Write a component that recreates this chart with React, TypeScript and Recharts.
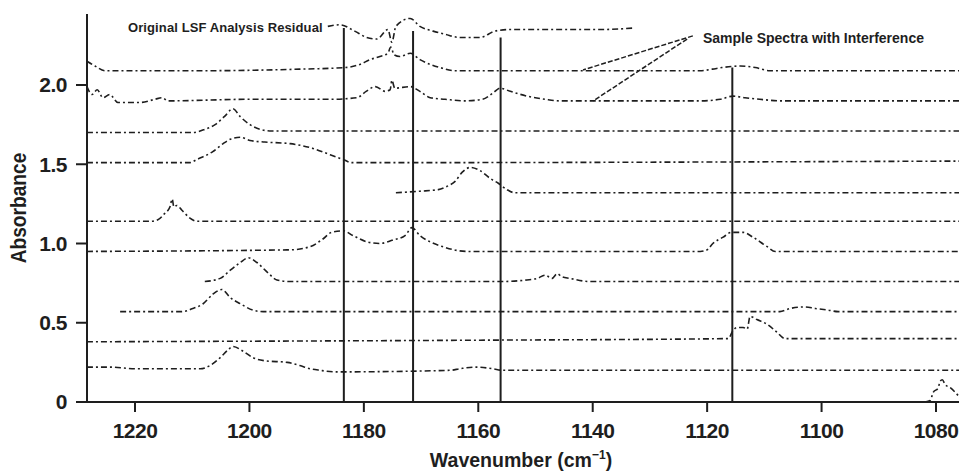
import React from 'react';
import { LineChart, Line, XAxis, YAxis, ReferenceLine } from 'recharts';

type Pt = [number, number];

// each trace: [wavenumber (cm-1), absorbance]
const lsfResidual: Pt[] = [
  [1186.3, 2.37], [1184.2, 2.38], [1181.6, 2.34], [1179.5, 2.30], [1177.7, 2.29], [1175.8, 2.35],
  [1175.1, 2.27], [1174.4, 2.37], [1171.9, 2.42], [1170.2, 2.37], [1167.9, 2.34], [1165.8, 2.32],
  [1163.2, 2.30], [1159.7, 2.30], [1157.1, 2.34], [1154.5, 2.35], [1145.7, 2.35], [1138.7, 2.35],
  [1132.6, 2.36],
];
const sampleA: Pt[] = [
  [1228.4, 2.15], [1227.0, 2.12], [1225.2, 2.09], [1208.6, 2.09], [1191.2, 2.10], [1183.3, 2.11],
  [1180.7, 2.13], [1178.9, 2.16], [1177.2, 2.18], [1175.8, 2.20], [1175.3, 2.24], [1174.7, 2.19],
  [1173.7, 2.18], [1171.9, 2.20], [1170.2, 2.16], [1168.4, 2.13], [1166.7, 2.11], [1164.1, 2.09],
  [1138.7, 2.09], [1121.2, 2.09], [1119.1, 2.10], [1117.4, 2.11], [1114.2, 2.12], [1111.6, 2.11],
  [1109.0, 2.09], [1075.8, 2.09],
];
const sampleB: Pt[] = [
  [1228.4, 1.99], [1227.5, 1.94], [1226.6, 1.97], [1225.6, 1.92], [1224.4, 1.94], [1223.0, 1.89],
  [1219.1, 1.89], [1216.5, 1.91], [1215.3, 1.92], [1214.2, 1.90], [1199.9, 1.91], [1185.9, 1.91],
  [1181.2, 1.92], [1179.6, 1.96], [1178.0, 1.99], [1176.3, 1.96], [1175.4, 1.97], [1175.1, 2.03],
  [1174.6, 1.98], [1171.9, 1.99], [1170.2, 1.96], [1168.4, 1.92], [1165.8, 1.91], [1162.3, 1.90],
  [1159.3, 1.91], [1157.4, 1.95], [1156.2, 1.98], [1154.4, 1.96], [1151.5, 1.93], [1148.3, 1.91],
  [1145.7, 1.90], [1121.2, 1.90], [1117.7, 1.91], [1115.5, 1.93], [1113.4, 1.92], [1110.8, 1.91],
  [1107.3, 1.90], [1075.8, 1.90],
];
const refC: Pt[] = [
  [1228.4, 1.70], [1209.9, 1.70], [1207.8, 1.72], [1206.0, 1.75], [1204.4, 1.80], [1202.9, 1.85],
  [1201.6, 1.80], [1199.9, 1.75], [1198.1, 1.72], [1196.1, 1.71], [1075.8, 1.71],
];
const refD: Pt[] = [
  [1228.4, 1.51], [1210.4, 1.51], [1209.2, 1.53], [1206.4, 1.58], [1204.6, 1.63], [1203.2, 1.66],
  [1201.6, 1.67], [1199.9, 1.65], [1197.3, 1.64], [1192.9, 1.63], [1188.9, 1.60], [1185.9, 1.56],
  [1183.6, 1.53], [1182.1, 1.51], [1075.8, 1.52],
];
const refE: Pt[] = [
  [1174.4, 1.32], [1170.2, 1.33], [1167.0, 1.34], [1165.5, 1.36], [1164.1, 1.39], [1162.8, 1.45],
  [1161.4, 1.48], [1159.7, 1.46], [1157.9, 1.41], [1156.5, 1.38], [1155.0, 1.34], [1153.6, 1.32],
  [1075.8, 1.32],
];
const refF: Pt[] = [
  [1228.4, 1.14], [1217.4, 1.14], [1216.0, 1.15], [1214.8, 1.19], [1213.9, 1.23], [1213.5, 1.28],
  [1213.2, 1.23], [1212.7, 1.24], [1211.8, 1.21], [1210.4, 1.16], [1209.2, 1.14], [1075.8, 1.14],
];
const refG: Pt[] = [
  [1228.4, 0.95], [1192.9, 0.96], [1189.4, 0.98], [1187.1, 1.03], [1185.7, 1.07], [1183.6, 1.08],
  [1181.9, 1.05], [1179.4, 1.01], [1177.2, 1.00], [1175.1, 1.02], [1172.8, 1.05], [1171.6, 1.10],
  [1170.2, 1.05], [1168.4, 1.01], [1166.2, 0.98], [1162.0, 0.95], [1121.2, 0.95], [1120.0, 0.96],
  [1119.0, 1.00], [1117.2, 1.04], [1115.8, 1.07], [1113.7, 1.07], [1112.0, 1.04], [1109.5, 0.98],
  [1108.1, 0.95], [1075.8, 0.95],
];
const refH: Pt[] = [
  [1207.8, 0.76], [1205.1, 0.78], [1203.4, 0.83], [1201.6, 0.88], [1200.2, 0.91], [1198.7, 0.88],
  [1196.9, 0.82], [1195.2, 0.77], [1192.9, 0.76], [1156.2, 0.76], [1151.5, 0.77], [1149.7, 0.78],
  [1148.3, 0.80], [1147.1, 0.78], [1146.2, 0.81], [1145.4, 0.79], [1144.0, 0.78], [1140.5, 0.76],
  [1075.8, 0.76],
];
const refI: Pt[] = [
  [1222.6, 0.57], [1211.8, 0.57], [1209.9, 0.59], [1208.1, 0.62], [1206.4, 0.68], [1204.8, 0.71],
  [1203.4, 0.66], [1201.6, 0.62], [1199.4, 0.58], [1197.6, 0.57], [1107.3, 0.57], [1105.5, 0.59],
  [1102.9, 0.60], [1101.1, 0.59], [1098.9, 0.58], [1097.1, 0.57], [1075.8, 0.57],
];
const refJ: Pt[] = [
  [1228.4, 0.38], [1159.7, 0.39], [1116.3, 0.40], [1115.5, 0.45], [1114.8, 0.47], [1113.7, 0.47],
  [1113.0, 0.46], [1112.5, 0.54], [1111.3, 0.52], [1109.5, 0.49], [1107.8, 0.44], [1106.4, 0.40],
  [1104.6, 0.40], [1075.8, 0.40],
];
const refK: Pt[] = [
  [1228.4, 0.22], [1224.4, 0.22], [1220.0, 0.21], [1208.6, 0.21], [1206.9, 0.23], [1205.1, 0.28],
  [1203.7, 0.33], [1202.9, 0.35], [1201.1, 0.32], [1199.4, 0.28], [1197.3, 0.26], [1193.4, 0.25],
  [1191.2, 0.23], [1189.4, 0.21], [1187.7, 0.20], [1185.0, 0.19], [1164.9, 0.20], [1163.2, 0.21],
  [1160.6, 0.22], [1157.4, 0.21], [1155.8, 0.20], [1075.8, 0.20],
];
const refL: Pt[] = [
  [1081.9, 0.0], [1081.0, 0.01], [1080.5, 0.06], [1079.6, 0.09], [1079.3, 0.13], [1078.9, 0.14],
  [1078.4, 0.11], [1077.5, 0.09], [1076.1, 0.04],
];

const TRACES = [lsfResidual, sampleA, sampleB, refC, refD, refE, refF, refG, refH, refI, refJ, refK, refL];

const X_TICKS = [1220, 1200, 1180, 1160, 1140, 1120, 1100, 1080];
const Y_TICKS = [0, 0.5, 1.0, 1.5, 2.0];

// bands marked with a vertical line: [wavenumber, top absorbance]
const BAND_MARKS: Pt[] = [[1183.5, 2.36], [1171.4, 2.34], [1156.1, 2.30], [1115.6, 2.11]];

// pointers from the "Sample Spectra" label to the two sample traces
const SAMPLE_POINTERS: [Pt, Pt][] = [
  [[1122.5, 2.31], [1141.7, 2.095]],
  [[1123.5, 2.29], [1139.9, 1.90]],
];

const FONT = '"Liberation Sans", Arial, sans-serif';
const INK = '#1e1e1e';
const TRACE_DASH = '6 3 2 3';

const tickStyle = { fill: INK, fontSize: 21, fontWeight: 700, fontFamily: FONT, letterSpacing: -0.5 };

const App: React.FC = () => {
  const series = TRACES.map(t => t.map(([wn, abs]) => ({ wn, abs })));

  return (
    <div style={{ position: 'absolute', left: 0, top: 0, width: 960, height: 471, background: '#fff', fontFamily: FONT, color: INK }}>
      <LineChart width={960} height={471} margin={{ top: 14, right: 1, left: 27, bottom: 0 }}>
        <XAxis
          type="number"
          dataKey="wn"
          reversed
          domain={[1075.98, 1228.39]}
          allowDataOverflow
          ticks={X_TICKS}
          height={69}
          tickSize={10}
          tickMargin={11}
          tick={tickStyle}
          axisLine={{ stroke: INK, strokeWidth: 2 }}
          tickLine={{ stroke: INK, strokeWidth: 2 }}
        />
        <YAxis
          type="number"
          domain={[0, 2.448]}
          allowDataOverflow
          ticks={Y_TICKS}
          width={60}
          tickSize={11}
          tickMargin={9}
          tick={tickStyle}
          tickFormatter={(v: number) => (v === 0 ? '0' : v.toFixed(1))}
          axisLine={{ stroke: INK, strokeWidth: 2 }}
          tickLine={{ stroke: INK, strokeWidth: 2 }}
        />
        {series.map((d, i) => (
          <Line
            key={`trace-${i}`}
            data={d}
            dataKey="abs"
            type="monotone"
            stroke={INK}
            strokeWidth={1.6}
            strokeDasharray={TRACE_DASH}
            dot={false}
            activeDot={false}
            isAnimationActive={false}
          />
        ))}
        {BAND_MARKS.map(([wn, top], i) => (
          <ReferenceLine
            key={`band-${i}`}
            segment={[{ x: wn, y: 0 }, { x: wn, y: top }]}
            stroke={INK}
            strokeWidth={2}
          />
        ))}
        {SAMPLE_POINTERS.map(([a, b], i) => (
          <ReferenceLine
            key={`ptr-${i}`}
            segment={[{ x: a[0], y: a[1] }, { x: b[0], y: b[1] }]}
            stroke={INK}
            strokeWidth={1.5}
            strokeDasharray="5 2"
          />
        ))}
      </LineChart>

      {/* annotations */}
      <div style={{ position: 'absolute', left: 128, top: 21, fontSize: 13, lineHeight: '13px', fontWeight: 700, whiteSpace: 'nowrap', letterSpacing: 0.1 }}>
        Original LSF Analysis Residual
      </div>
      <div style={{ position: 'absolute', left: 703, top: 31, fontSize: 14, lineHeight: '14px', fontWeight: 700, whiteSpace: 'nowrap' }}>
        Sample Spectra with Interference
      </div>

      {/* axis titles */}
      <div
        style={{
          position: 'absolute', left: 19, top: 208, fontSize: 22, lineHeight: '22px', fontWeight: 700, whiteSpace: 'nowrap',
          transform: 'translate(-50%, -50%) rotate(-90deg) scaleX(0.87)',
        }}
      >
        Absorbance
      </div>
      <div
        style={{
          position: 'absolute', left: 521, top: 449, fontSize: 21, lineHeight: '21px', fontWeight: 700, whiteSpace: 'nowrap',
          transform: 'translateX(-50%) scaleX(0.93)',
        }}
      >
        Wavenumber (cm<span style={{ fontSize: 13, position: 'relative', top: -8 }}>−1</span>)
      </div>
    </div>
  );
};

export default App;
